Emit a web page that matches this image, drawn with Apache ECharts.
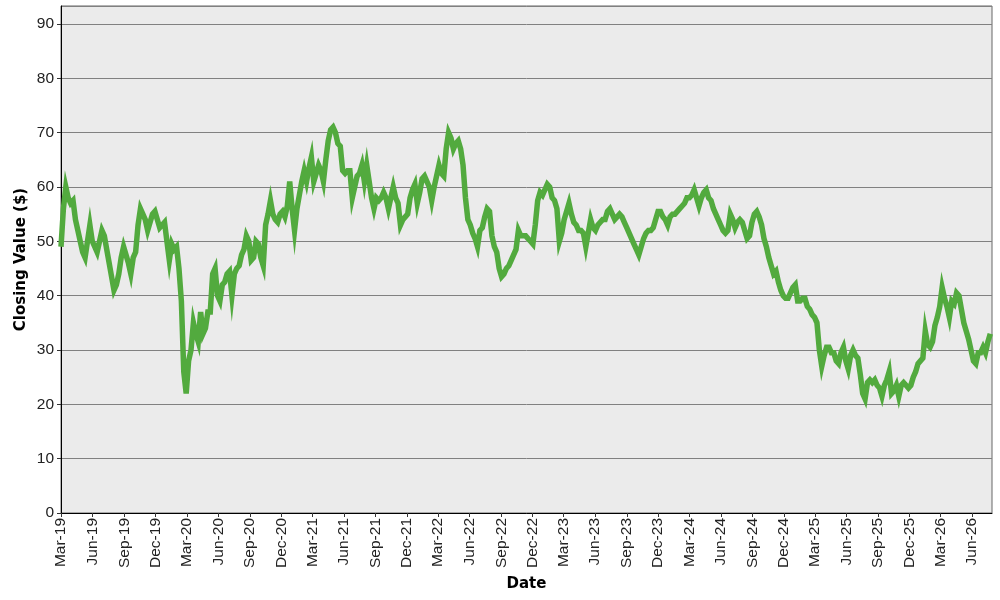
<!DOCTYPE html>
<html>
<head>
<meta charset="utf-8">
<title>Closing Value</title>
<script src="https://cdn.jsdelivr.net/npm/echarts@6/dist/echarts.min.js"></script>
<style>
  html, body { margin: 0; padding: 0; background: #fff; }
  #chart { width: 1000px; height: 600px; }
</style>
</head>
<body>
<div id="chart"></div>
<script>
// one closing value per week, first week starts on 1 Mar 2019
const firstDay = [2019, 2, 1];
const daysPerWeek = 7;
const lastDay = [2026, 6, 29];

const closingValues = [
  49, 56, 60, 58, 57, 57.5, 54, 52, 50, 48,
  47, 50, 53, 50, 49, 48, 50, 52, 51, 48.5,
  46, 43.5, 41, 42, 44, 47, 49, 47.5, 46, 44,
  47, 48, 53, 56, 55, 54, 52, 53.5, 55, 55.5,
  54, 52.5, 53, 53.5, 50, 46.5, 49.5, 48.5, 49, 45,
  39, 26, 22, 28, 30, 35, 33, 31.5, 37, 33,
  34, 37, 37, 44, 45, 40, 39, 42, 42.5, 44,
  44.5, 40, 44, 45, 45.5, 47.5, 48.5, 51, 50, 46.5,
  47, 50, 49.5, 47, 45.5, 53, 55, 57.5, 55, 54,
  53.5, 55, 55.5, 54.5, 56.5, 61, 56, 52, 56, 58.5,
  61, 63, 61, 63.5, 65.5, 61, 62.5, 64, 63, 61,
  65, 68.5, 70.5, 71, 70, 68, 67.5, 63, 62.5, 63,
  63, 58, 60, 62, 62.5, 64, 61, 64, 61, 58,
  56, 58, 57.5, 58, 59, 58, 56, 58, 60, 58,
  57, 53, 54, 54.5, 55, 58, 59.5, 60.5, 57, 59,
  61.5, 62, 61, 60, 57.5, 60, 62, 64, 62.5, 62,
  67, 70, 69, 67, 68, 68.5, 67, 64, 58, 54,
  53, 51.5, 50.5, 49, 52, 52.5, 54.5, 56, 55.5, 51,
  49, 48, 45, 43.5, 44, 45, 45.5, 46.5, 47.5, 48.5,
  52, 51, 51, 51, 50.5, 50, 49.5, 53, 57.5, 59,
  58.5, 59.5, 60.5, 60, 58, 57.5, 56, 50, 51.5, 54,
  55.5, 57, 55, 53.5, 53, 52, 52, 51.5, 49, 51.5,
  54, 52.5, 52, 53, 53.5, 54, 54, 55.5, 56, 55,
  54, 54.5, 55, 54.5, 53.5, 52.5, 51.5, 50.5, 49.5, 48.5,
  47.5, 49, 50.5, 51.5, 52, 52, 52.5, 54, 55.5, 55.5,
  54.5, 54, 53, 54.5, 55, 55, 55.5, 56, 56.5, 57,
  58, 58, 58.5, 59.5, 58, 56.5, 58, 59, 59.5, 58,
  57.5, 56, 55, 54, 53, 52, 51.5, 52, 55, 54,
  52.5, 53.5, 54, 53.5, 52, 50.5, 51, 53.5, 55, 55.5,
  54.5, 53, 50.5, 49, 47, 45.5, 44, 44.5, 42.5, 41,
  40, 39.5, 39.5, 40.5, 41.5, 42, 39, 39, 39.5, 39.5,
  38, 37.5, 36.5, 36, 35, 30, 27, 29, 30.5, 30.5,
  29.5, 29.5, 28, 27.5, 29.5, 30.5, 28, 26.5, 29, 30,
  29, 28.5, 25.5, 22, 21, 24, 24.5, 24, 24.5, 23.5,
  23, 21.5, 23.5, 24.5, 26, 22, 22.5, 23.5, 21.5, 23.5,
  24, 23.5, 23, 23.5, 25, 26, 27.5, 28, 28.5, 33.5,
  31, 30.5, 31.5, 34.5, 36, 38, 41.5, 39.5, 38, 36,
  39, 38.5, 40.5, 40, 37.5, 35, 33.5, 32, 30, 28,
  27.5, 29.5, 29.5, 30.5, 29.5, 31.5, 33
];

const tickLabels = [
  'Mar-19', 'Jun-19', 'Sep-19', 'Dec-19', 'Mar-20', 'Jun-20', 'Sep-20', 'Dec-20',
  'Mar-21', 'Jun-21', 'Sep-21', 'Dec-21', 'Mar-22', 'Jun-22', 'Sep-22', 'Dec-22',
  'Mar-23', 'Jun-23', 'Sep-23', 'Dec-23', 'Mar-24', 'Jun-24', 'Sep-24', 'Dec-24',
  'Mar-25', 'Jun-25', 'Sep-25', 'Dec-25', 'Mar-26', 'Jun-26'
];

const monthNames = ['Jan', 'Feb', 'Mar', 'Apr', 'May', 'Jun',
                    'Jul', 'Aug', 'Sep', 'Oct', 'Nov', 'Dec'];

const DAY_MS = 86400000;
const startUTC = Date.UTC(firstDay[0], firstDay[1], firstDay[2]);

// x axis runs in days since the first day
function daysSinceStart(y, m, d) {
  return Math.round((Date.UTC(y, m, d) - startUTC) / DAY_MS);
}

// 'Mar-19' -> day offset of 1 Mar 2019
function labelToDay(label) {
  const parts = label.split('-');
  return daysSinceStart(2000 + Number(parts[1]), monthNames.indexOf(parts[0]), 1);
}

const tickDays = tickLabels.map(labelToDay);
const maxDay = daysSinceStart(lastDay[0], lastDay[1], lastDay[2]);

const seriesData = closingValues.map((v, i) => [i * daysPerWeek, v]);

const chart = echarts.init(document.getElementById('chart'), null, { renderer: 'canvas' });

const option = {
  animation: false,
  backgroundColor: '#ffffff',
  grid: {
    left: 61,
    right: 8,
    top: 6,
    bottom: 87,
    show: true,
    backgroundColor: '#ebebeb',
    borderColor: '#666666',
    borderWidth: 1
  },
  xAxis: {
    type: 'value',
    min: 0,
    max: maxDay,
    name: 'Date',
    nameLocation: 'middle',
    nameGap: 64,
    nameTextStyle: {
      fontFamily: 'DejaVu Sans',
      fontWeight: 'bold',
      fontSize: 15,
      color: '#000'
    },
    axisLine: { show: true, onZero: false, lineStyle: { color: '#000', width: 1 } },
    axisTick: {
      show: true,
      length: 4,
      customValues: tickDays,
      lineStyle: { color: '#333' }
    },
    axisLabel: {
      customValues: tickDays,
      rotate: 90,
      margin: 5,
      fontFamily: 'Liberation Sans, Arial, sans-serif',
      fontSize: 15.5,
      color: '#222',
      formatter: function (value) {
        const k = tickDays.indexOf(value);
        return k >= 0 ? tickLabels[k] : '';
      }
    },
    splitLine: { show: false }
  },
  yAxis: {
    type: 'value',
    min: 0,
    max: 93.3,
    interval: 10,
    name: 'Closing Value ($)',
    nameLocation: 'middle',
    nameGap: 32,
    nameMoveOverlap: false,
    nameTextStyle: {
      fontFamily: 'DejaVu Sans',
      fontWeight: 'bold',
      fontSize: 15,
      color: '#000'
    },
    axisLine: { show: true, lineStyle: { color: '#000', width: 1 } },
    axisTick: { show: true, length: 4, lineStyle: { color: '#333' } },
    axisLabel: {
      showMaxLabel: false,
      margin: 7,
      fontFamily: 'Liberation Sans, Arial, sans-serif',
      fontSize: 15.5,
      color: '#222'
    },
    splitLine: { show: true, lineStyle: { color: '#808080', width: 1 } }
  },
  series: [
    {
      name: 'Closing Value',
      type: 'line',
      data: seriesData,
      showSymbol: false,
      smooth: false,
      lineStyle: { color: '#52aa3e', width: 5.5, join: 'miter' },
      itemStyle: { color: '#52aa3e' }
    }
  ]
};

chart.setOption(option);
</script>
</body>
</html>
